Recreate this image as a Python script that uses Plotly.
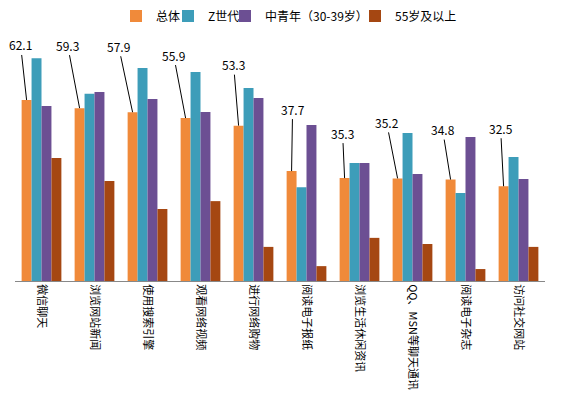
import plotly.graph_objects as go

categories = ["微信聊天", "浏览网站新闻", "使用搜索引擎", "观看网络视频", "进行网络购物",
              "阅读电子报纸", "浏览生活休闲资讯", "QQ、MSN等聊天通讯", "阅读电子杂志", "访问社交网站"]
total = [62.1, 59.3, 57.9, 55.9, 53.3, 37.7, 35.3, 35.2, 34.8, 32.5]
gen_z = [76.4, 64.2, 73.1, 71.7, 66.2, 32.2, 40.5, 50.8, 30.2, 42.5]
youth = [60.0, 64.8, 62.4, 58.0, 62.8, 53.5, 40.5, 36.7, 49.4, 35.0]
senior = [42.2, 34.3, 24.7, 27.4, 11.7, 5.1, 14.8, 12.7, 4.1, 11.7]
series_names = ["总体", "Z世代", "中青年（30-39岁）", "55岁及以上"]
colors = ["#F08A3A", "#3D9DB9", "#6C4F93", "#A54712"]

# label leader offsets (pixels)
label_ax = [-6, -12, -14, -12, -5, 1, -2, -11, -8, -3]
label_ay = [-55, -63, -66, -63, -61, -62, -45, -56, -50, -58]

FONT = "Noto Sans CJK SC, Microsoft YaHei, sans-serif"

# layout geometry
W, H = 586, 396
ML, MR, MT, MB = 15, 41, 10, 115
plot_w = W - ML - MR
plot_h = H - MT - MB
y_top = plot_h / 2.915
legend_text_x = [156, 208, 265, 395]  # pixel x where legend text starts
legend_y_px = 16

legend_ids = ["legend", "legend2", "legend3", "legend4"]

fig = go.Figure()
for name, vals, c, lid in zip(series_names, [total, gen_z, youth, senior], colors, legend_ids):
    fig.add_trace(go.Bar(name=name, x=categories, y=vals, legend=lid, hoverinfo="skip",
                         marker=dict(color=c, line=dict(width=0))))

bargap = 0.25
bw = (1 - bargap) / 4
for i, v in enumerate(total):
    fig.add_annotation(
        x=i - 1.5 * bw, y=v, xref="x", yref="y",
        text=f"{v}", showarrow=True, arrowhead=0, arrowwidth=1, arrowcolor="#000000",
        ax=label_ax[i], ay=label_ay[i],
        font=dict(family=FONT, size=12, color="#000000"),
    )

legend_layouts = {}
for lid, tx in zip(legend_ids, legend_text_x):
    legend_layouts[lid] = dict(
        orientation="h", x=(tx - 40 - ML) / plot_w, xanchor="left",
        y=(H - MB - legend_y_px) / plot_h, yanchor="middle",
        font=dict(size=12, family=FONT, color="#000000"), itemwidth=30,
        bgcolor="rgba(0,0,0,0)",
    )

fig.update_layout(
    width=W, height=H,
    margin=dict(l=ML, r=MR, t=MT, b=MB, autoexpand=False),
    paper_bgcolor="white", plot_bgcolor="white",
    barmode="group", bargap=bargap, bargroupgap=0,
    font=dict(family=FONT, size=12, color="#000000"),
    showlegend=True,
    xaxis=dict(showline=True, linecolor="#888888", linewidth=1, ticks="", automargin=False,
               tickangle=90, tickfont=dict(size=11, family=FONT), showgrid=False,
               range=[-0.5, len(categories) - 0.5]),
    yaxis=dict(range=[0, y_top], showticklabels=False, showgrid=False, zeroline=False,
               showline=False, automargin=False),
    **legend_layouts,
)

fig.write_html("out.html", config={"displayModeBar": False},
               post_script="document.body.style.margin='0';document.body.style.overflow='hidden';")
